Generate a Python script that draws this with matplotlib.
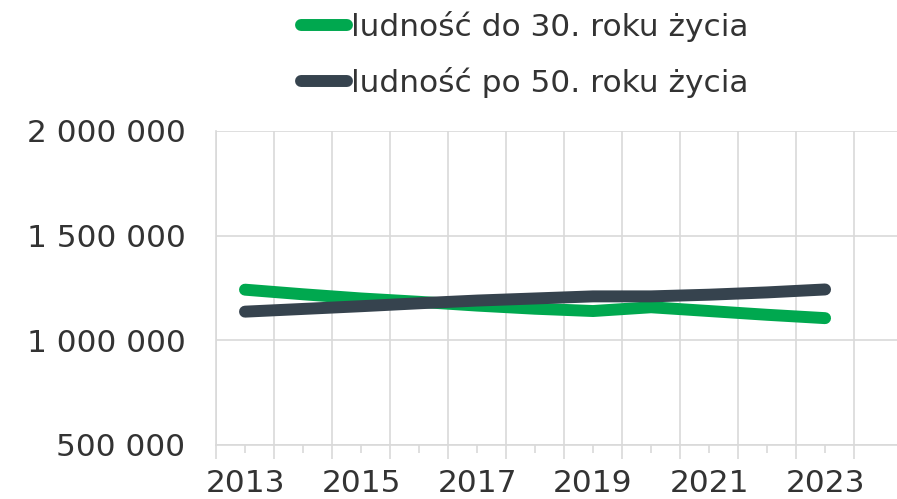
import numpy as np
import matplotlib.pyplot as plt
from matplotlib.ticker import FixedLocator, FuncFormatter

# Dane
years = [2013, 2014, 2015, 2016, 2017, 2018, 2019, 2020, 2021, 2022, 2023]
do_30 = [1242000, 1220000, 1200000, 1184000, 1166000, 1151000, 1140000, 1158000, 1140000, 1122000, 1106000]
po_50 = [1137000, 1150000, 1163000, 1177000, 1190000, 1200000, 1210000, 1210000, 1218000, 1229000, 1243000]
labels = ['ludność do 30. roku życia', 'ludność po 50. roku życia']
colors = ['#00A84F', '#36434E']
y_ticks = [500000, 1000000, 1500000, 2000000]

plt.rcParams['font.family'] = ['DejaVu Sans']
fs = 22.5

fig = plt.figure(figsize=(8.97, 4.99), dpi=100)
ax = fig.add_axes([216 / 897, 1 - 445 / 499, 681 / 897, (445 - 131) / 499])

x = np.arange(len(years))
for vals, col, lab in zip([do_30, po_50], colors, labels):
    ax.plot(x, vals, color=col, linewidth=8.6, solid_capstyle='round', label=lab)

ax.set_ylim(500000, 2000000)
ax.set_xlim(-0.5, 11.24)
ax.set_yticks(y_ticks)
ax.yaxis.set_major_formatter(FuncFormatter(lambda v, p: f'{int(v):,}'.replace(',', ' ')))

ax.xaxis.set_major_locator(FixedLocator(np.arange(-0.5, 12, 1)))
ax.xaxis.set_minor_locator(FixedLocator(x))
ax.xaxis.set_major_formatter(FuncFormatter(lambda v, p: ''))
ax.xaxis.set_minor_formatter(FuncFormatter(
    lambda v, p: str(years[int(round(v))]) if int(round(v)) % 2 == 0 else ''))

ax.tick_params(axis='x', which='major', length=10, width=1.2, color='#D9D9D9')
ax.tick_params(axis='x', which='minor', length=6, width=1.2, color='#D9D9D9',
               labelsize=fs, labelcolor='#333333', pad=11)
ax.tick_params(axis='y', length=0, labelsize=fs, labelcolor='#333333', pad=22)

ax.grid(True, which='major', color='#D9D9D9', linewidth=1.2)
for s in ['top', 'right']:
    ax.spines[s].set_visible(False)
for s in ['left', 'bottom']:
    ax.spines[s].set_color('#D9D9D9')
    ax.spines[s].set_linewidth(1.2)
ax.set_axisbelow(True)

leg = fig.legend(loc='center', bbox_to_anchor=(525 / 897, 1 - 54 / 499), ncol=1,
                 frameon=False, fontsize=fs, labelcolor='#333333',
                 handlelength=1.45, handletextpad=0.15, labelspacing=0.8)

plt.savefig('out.png', dpi=100)
